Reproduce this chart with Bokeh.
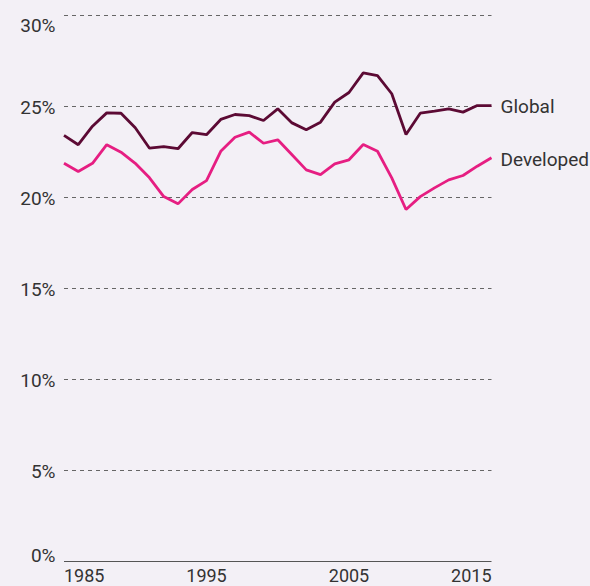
from bokeh.plotting import figure
from bokeh.models import ColumnDataSource, Range1d
from bokeh.core.properties import value
from bokeh.embed import file_html
from bokeh.resources import INLINE

# ---- data -------------------------------------------------------------
years = list(range(1985, 2016))
global_share = [23.41, 22.90, 23.92, 24.65, 24.63, 23.83, 22.71, 22.80, 22.68, 23.57,
                23.45, 24.29, 24.56, 24.50, 24.23, 24.87, 24.10, 23.72, 24.14, 25.24,
                25.77, 26.85, 26.70, 25.70, 23.46, 24.63, 24.74, 24.87, 24.69, 25.05,
                25.05]
developed_share = [21.88, 21.43, 21.88, 22.90, 22.49, 21.88, 21.08, 20.05, 19.65, 20.44,
                   20.93, 22.54, 23.31, 23.59, 22.98, 23.17, 22.35, 21.52, 21.26, 21.85,
                   22.07, 22.91, 22.54, 21.08, 19.34, 20.05, 20.53, 20.97, 21.21, 21.72,
                   22.18]
series_names = ["Global", "Developed"]
y_ticks = [0, 5, 10, 15, 20, 25, 30]
y_tick_labels = ["0%", "5%", "10%", "15%", "20%", "25%", "30%"]
x_ticks = [1985, 1995, 2005, 2015]
x_tick_labels = ["1985", "1995", "2005", "2015"]

# ---- style ------------------------------------------------------------
BG = "#f3f0f6"
C_GLOBAL = "#5c0a34"
C_DEV = "#e61e82"
TXT = "#333333"
FONT = "Roboto"
FS = "19px"
PX_X = 14.25   # pixels per year
PX_Y = 18.2    # pixels per percent

p = figure(width=590, height=586, output_backend="svg", toolbar_location=None,
           x_axis_location=None, y_axis_location=None,
           x_range=Range1d(1985 - 63.5 / PX_X, 2015 + 99 / PX_X),
           y_range=Range1d(-25 / PX_Y, 30 + 15 / PX_Y),
           min_border=0, background_fill_color=BG, border_fill_color=BG,
           outline_line_color=None)
p.grid.visible = False

x0, x1 = years[0], years[-1]

# dashed gridlines (not at 0)
grid_y = [t for t in y_ticks if t != 0]
p.segment(x0=[x0] * len(grid_y), x1=[x1] * len(grid_y), y0=grid_y, y1=grid_y,
          line_color="#666666", line_width=1, line_dash="4 4")
# baseline axis
p.segment(x0=[x0], x1=[x1], y0=[0], y1=[0], line_color="#555555", line_width=1.2)

# y tick labels
lab_x = x0 - 8.5 / PX_X
ys = []
for t in y_ticks:
    if t == y_ticks[-1]:
        ys.append(t - 0.55)
    elif t == y_ticks[0]:
        ys.append(t + 0.33)
    else:
        ys.append(t - 0.07)
p.text(x=[lab_x] * len(y_ticks), y=ys, text=y_tick_labels, text_align="right",
       text_baseline="middle", text_font=value(FONT), text_font_size=FS,
       text_color=TXT)

# x tick labels
aligns = ["left"] + ["center"] * (len(x_ticks) - 2) + ["right"]
src_x = ColumnDataSource(dict(x=x_ticks, y=[-13.5 / PX_Y] * len(x_ticks),
                              t=x_tick_labels, a=aligns))
p.text(x="x", y="y", text="t", text_align="a", source=src_x,
       text_baseline="middle", text_font=value(FONT), text_font_size="18px",
       text_color=TXT)

# lines
p.line(years, developed_share, line_color=C_DEV, line_width=2.8)
p.line(years, global_share, line_color=C_GLOBAL, line_width=2.8)

# end labels
lx = x1 + 9 / PX_X
p.text(x=[lx, lx], y=[global_share[-1] - 0.07, developed_share[-1] - 0.07],
       text=series_names, text_align="left", text_baseline="middle",
       text_font=value(FONT), text_font_size=FS, text_color=TXT)

html = file_html(p, INLINE, title="chart")
html = html.replace("</head>",
                    "<style>html, body {margin: 0; padding: 0; background: #f3f0f6;}</style></head>", 1)
open("out.html", "w").write(html)
